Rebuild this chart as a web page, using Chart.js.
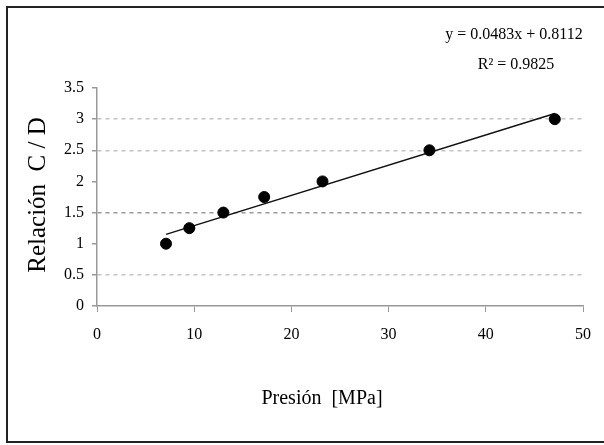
<!DOCTYPE html>
<html>
<head>
<meta charset="utf-8">
<script src="https://cdn.jsdelivr.net/npm/chart.js@4/dist/chart.umd.min.js"></script>
<style>
  html, body { margin: 0; padding: 0; background: #fff; }
  #wrap { width: 604px; height: 445px; }
</style>
</head>
<body>
<div id="wrap"><canvas id="chart"></canvas></div>
<script>
// values
const pressure = [7.1, 9.5, 13.0, 17.2, 23.2, 34.2, 47.1];   // MPa
const ratio = [1.0, 1.25, 1.5, 1.75, 2.0, 2.5, 3.0];         // C / D
const trendX = [7.1, 47.1];
const trendY = [1.15, 3.09];
const xTicks = [0, 10, 20, 30, 40, 50];
const yTicks = [0, 0.5, 1, 1.5, 2, 2.5, 3, 3.5];
const eqText = ["y = 0.0483x + 0.8112", "R\u00B2 = 0.9825"];
const xTitle = "Presión  [MPa]";
const yTitle = "Relación  C / D";

const serif = "'Liberation Serif', 'DejaVu Serif', serif";

// frame, equation and axis titles
const textPlugin = {
    id: 'texts',
    beforeDraw(chart) {
        const ctx = chart.ctx;
        ctx.save();
        ctx.fillStyle = '#fff';
        ctx.fillRect(0, 0, chart.width, chart.height);
        ctx.strokeStyle = '#222';
        ctx.lineWidth = 2;
        ctx.strokeRect(7, 7, 610, 435);
        ctx.restore();
    },
    afterDraw(chart) {
        const ctx = chart.ctx;
        ctx.save();
        ctx.fillStyle = '#000';
        ctx.textAlign = 'center';
        ctx.textBaseline = 'middle';
        ctx.font = '16px ' + serif;
        ctx.fillText(eqText[0], 514, 35);
        ctx.fillText(eqText[1], 516, 65);
        ctx.font = '20px ' + serif;
        ctx.fillText(xTitle, 322, 399);
        ctx.translate(38, 195);
        ctx.rotate(-Math.PI / 2);
        ctx.font = '25px ' + serif;
        ctx.fillText(yTitle, 0, 0);
        ctx.restore();
    }
};

var ctx = document.getElementById("chart").getContext("2d");
var chart = new Chart(ctx, {
    type: "scatter",
    data: {
        datasets: [
            {
                label: "Relación C / D",
                data: pressure.map((p, i) => ({ x: p, y: ratio[i] })),
                backgroundColor: "#000",
                borderColor: "#000",
                pointRadius: 5.5,
                pointHoverRadius: 5.5,
            },
            {
                type: "line",
                label: "Tendencia",
                data: trendX.map((p, i) => ({ x: p, y: trendY[i] })),
                borderColor: "#111",
                borderWidth: 1.5,
                pointRadius: 0,
                fill: false,
            },
        ],
    },
    options: {
        responsive: true,
        maintainAspectRatio: false,
        animation: false,
        layout: { padding: { left: 0, top: 88, right: 18, bottom: 0 } },
        plugins: {
            legend: { display: false },
            tooltip: { enabled: false },
        },
        scales: {
            x: {
                type: "linear",
                min: 0,
                max: 50,
                afterBuildTicks: (s) => { s.ticks = xTicks.map(v => ({ value: v })); },
                afterFit: (s) => { s.height = 139; },
                grid: {
                    drawOnChartArea: false,
                    drawTicks: true,
                    tickLength: 6,
                    tickColor: "#999",
                },
                border: { color: "#999", width: 1.5 },
                ticks: {
                    padding: 13,
                    color: "#000",
                    font: { family: serif, size: 16 },
                    callback: (v) => String(v),
                },
            },
            y: {
                min: 0,
                max: 3.5,
                afterBuildTicks: (s) => { s.ticks = yTicks.map(v => ({ value: v })); },
                afterFit: (s) => { s.width = 97; },
                grid: {
                    drawTicks: true,
                    tickLength: 5,
                    tickColor: "#999",
                    color: (c) => {
                        const v = c.tick ? c.tick.value : null;
                        if (v === 1.5) return "#9a9a9a";
                        if (v === 0.5 || v === 2.5 || v === 3) return "#c4c4c4";
                        return "rgba(0,0,0,0)";
                    },
                    lineWidth: 1.5,
                },
                border: { color: "#999", width: 1.5, dash: [4, 4] },
                ticks: {
                    padding: 8,
                    color: "#000",
                    font: { family: serif, size: 16 },
                    callback: (v) => String(v),
                },
            },
        },
    },
    plugins: [textPlugin],
});
</script>
</body>
</html>
